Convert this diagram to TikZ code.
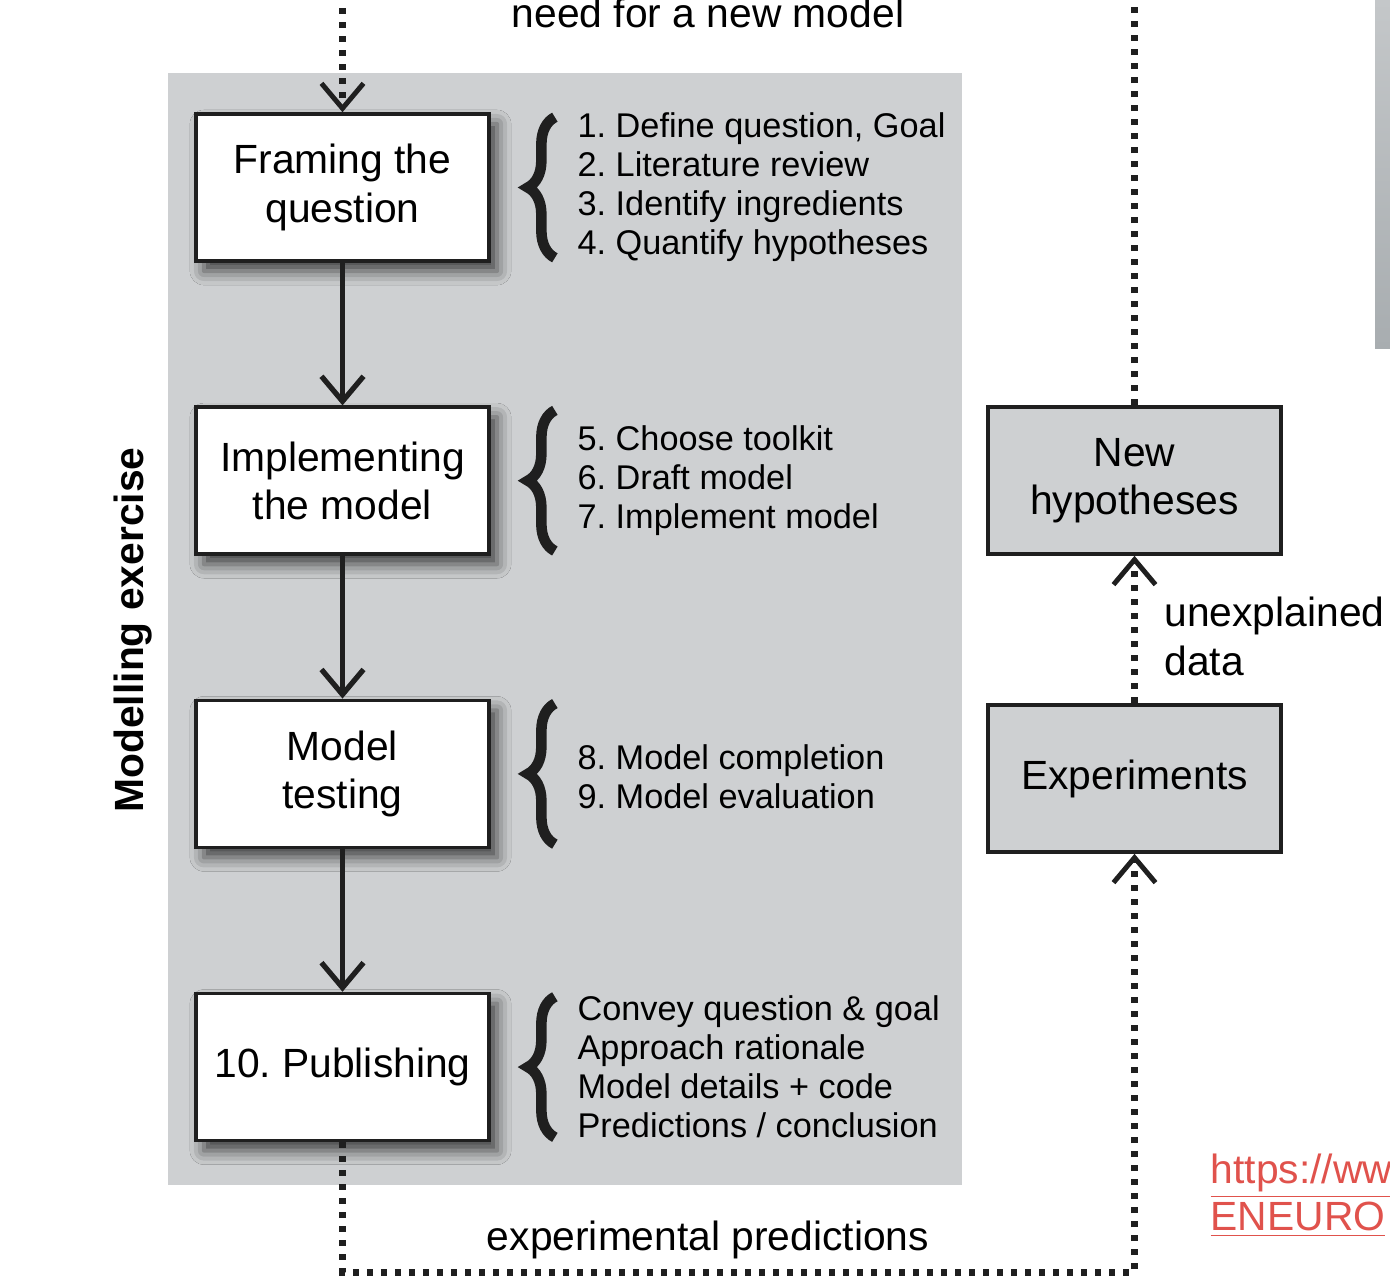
\documentclass[tikz,border=0pt]{standalone}
\usepackage{fontspec}
\setmainfont{Liberation Sans}
\usetikzlibrary{arrows.meta, positioning, shadows.blur, decorations.pathreplacing}
\definecolor{panelGray}{HTML}{CED0D2}
\definecolor{barGrayA}{HTML}{C4C7C9}
\definecolor{barGrayB}{HTML}{A8ADB0}
\definecolor{linkRed}{HTML}{E0524C}
\definecolor{mainBlack}{gray}{0.12}
\frenchspacing

\begin{document}
\begin{tikzpicture}[x=0.01cm, y=-0.01cm,
    basebox/.style={draw=mainBlack, line width=1pt, minimum width=2.93cm, minimum height=1.47cm,
        align=center, font=\fontsize{11.6}{13.7}\selectfont},
    stepbox/.style={basebox, fill=white,
        blur shadow={shadow xshift=0.08cm, shadow yshift=-0.1cm, shadow blur radius=0.14cm, shadow opacity=70}},
    sidebox/.style={basebox, fill=panelGray},
    listtext/.style={anchor=west, align=left, inner sep=0pt, font=\fontsize{9.75}{11.1}\selectfont},
    label/.style={font=\fontsize{11.6}{13.7}\selectfont},
    flow/.style={draw=mainBlack, line width=1.5pt, -{Straight Barb[length=0.25cm, width=0.42cm]}},
    dotline/.style={draw=mainBlack, line width=0.07cm, dash pattern=on 0.06cm off 0.08cm},
    dotarrow/.style={dotline, -{Straight Barb[length=0.25cm, width=0.42cm, line width=1.4pt]}},
    curly/.style={draw=mainBlack, line width=3pt, decorate, decoration={brace, amplitude=0.27cm}}]

    \useasboundingbox (0,0) rectangle (1390,1284);
    \clip (0,0) rectangle (1390,1284);

    % grey panel of the modelling exercise
    \fill[panelGray] (168,73) rectangle (962,1185);
    \shade[top color=barGrayA, bottom color=barGrayB] (1375,0) rectangle (1390,348);

    % main steps
    \node[stepbox] (frame) at (342.5,187.5) {Framing the\\question};
    \node[stepbox, below=1.425cm of frame] (impl) {Implementing\\the model};
    \node[stepbox, below=1.425cm of impl] (test) {Model\\testing};
    \node[stepbox, below=1.425cm of test] (publ) {10. Publishing};

    % sub-steps
    \node[listtext, right=0.86cm of frame] (framelist) {1. Define question, Goal\\2. Literature review\\3. Identify ingredients\\4. Quantify hypotheses};
    \node[listtext, right=0.86cm of impl] (impllist) {5. Choose toolkit\\6. Draft model\\7. Implement model};
    \node[listtext, right=0.86cm of test, yshift=-0.03cm] (testlist) {8. Model completion\\9. Model evaluation};
    \node[listtext, right=0.86cm of publ] (publlist) {Convey question \& goal\\Approach rationale\\Model details + code\\Predictions / conclusion};

    \foreach \s in {frame, impl, test, publ}
        \draw[curly] ([xshift=0.64cm, yshift=0.05cm]\s.south east) -- ([xshift=0.64cm, yshift=-0.05cm]\s.north east);

    \foreach \a/\b in {frame/impl, impl/test, test/publ}
        \draw[flow] (\a.south) -- (\b.north);

    \node[rotate=90, font=\fontsize{11.6}{13.7}\selectfont\bfseries] (exlabel) at (133,630) {Modelling exercise};

    % experiment side
    \node[sidebox] (newhyp) at (1134.5,480.5) {New\\hypotheses};
    \node[sidebox] (expts) at (1134.5,778.5) {Experiments};

    \coordinate (topin) at (342.5,-20);
    \coordinate (topout) at (1134.5,-20);
    \coordinate (bend) at (1134.5,1272);

    \draw[dotarrow] (topin) -- (frame.north);
    \draw[dotline] (newhyp.north) -- (topout);
    \draw[dotarrow] (expts.north) -- (newhyp.south);
    \draw[dotarrow] (publ.south) |- (bend) -- (expts.south);

    \node[label, anchor=base] (needtext) at (708,27) {need for a new model};
    \node[label, anchor=base] (predtext) at (708,1250) {experimental predictions};
    \node[label, anchor=north west, align=left] (unexpl) at (1152,585) {unexplained\\data};

    % link at the corner
    \node[label, anchor=base west, inner sep=0pt, text=linkRed] (linkA) at (1210,1183) {\underline{https://ww}};
    \node[label, anchor=base west, inner sep=0pt, text=linkRed] (linkB) at (1210,1230) {\underline{ENEURO}};
\end{tikzpicture}
\end{document}
